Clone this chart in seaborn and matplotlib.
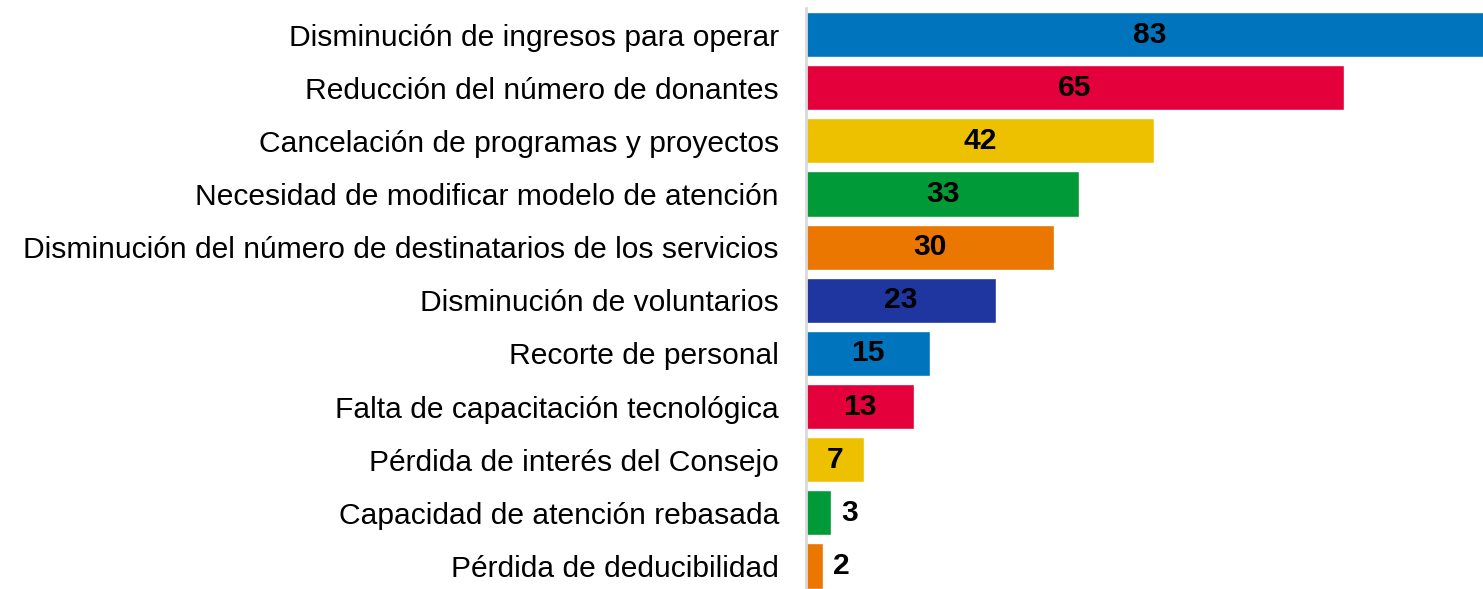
import matplotlib
matplotlib.use("Agg")
import matplotlib.pyplot as plt
import seaborn as sns
import pandas as pd

sns.set_theme(style="white")
plt.rcParams['font.family'] = ['Liberation Sans', 'DejaVu Sans']

categorias = [
    "Disminución de ingresos para operar",
    "Reducción del número de donantes",
    "Cancelación de programas y proyectos",
    "Necesidad de modificar modelo de atención",
    "Disminución del número de destinatarios de los servicios",
    "Disminución de voluntarios",
    "Recorte de personal",
    "Falta de capacitación tecnológica",
    "Pérdida de interés del Consejo",
    "Capacidad de atención rebasada",
    "Pérdida de deducibilidad",
]
valores = [83, 65, 42, 33, 30, 23, 15, 13, 7, 3, 2]
colores = ["#0075BE", "#E4003A", "#EDC100", "#009A38", "#EB7600", "#1F35A0",
           "#0075BE", "#E4003A", "#EDC100", "#009A38", "#EB7600"]

df = pd.DataFrame({"cat": categorias, "val": valores})

fig = plt.figure(figsize=(14.83, 5.89), dpi=100)
ax = fig.add_axes([806 / 1483, -0.006, 1 - 806 / 1483, 0.9925])

sns.barplot(data=df, x="val", y="cat", hue="cat", palette=colores,
            legend=False, width=0.85, ax=ax, saturation=1)

ax.set_xlim(0, 81.8)
ax.set_ylim(10.5, -0.5)
ax.set_xlabel("")
ax.set_ylabel("")
ax.set_xticks([])
for s in ["top", "right", "bottom"]:
    ax.spines[s].set_visible(False)
ax.spines["left"].set_color("#d9d9d9")
ax.spines["left"].set_linewidth(2)
ax.tick_params(axis="y", length=0, pad=19.5, labelsize=21.6, labelcolor="black")

for patch, v in zip(ax.patches, valores):
    yc = patch.get_y() + patch.get_height() / 2
    if v >= 7:
        ax.text(v / 2, yc, str(v), ha="center", va="center",
                fontsize=21.6, fontweight="bold", color="black")
    else:
        ax.text(v + 1.3, yc, str(v), ha="left", va="center",
                fontsize=21.6, fontweight="bold", color="black")

fig.savefig("out.png", dpi=100)
